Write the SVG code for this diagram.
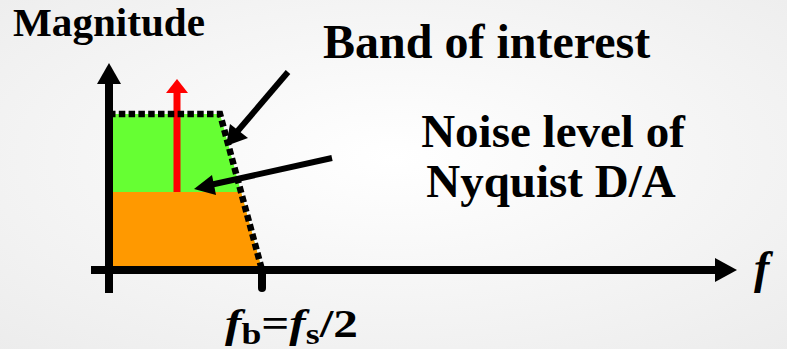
<svg xmlns="http://www.w3.org/2000/svg" width="787" height="349" viewBox="0 0 787 349">
<defs>
<radialGradient id="bg" cx="0.5" cy="0.45" r="0.75">
<stop offset="0" stop-color="#ffffff"/>
<stop offset="1" stop-color="#ececec"/>
</radialGradient>
<style>
.t{font-family:"Liberation Serif","Times New Roman",serif;font-weight:bold;fill:#000}
.fi{font-style:italic}
.ax{stroke:#000;stroke-width:8;fill:none}
.ptr{stroke:#000;stroke-width:6;fill:none}
.dots{stroke:#000;stroke-width:6.5;fill:none;stroke-dasharray:6.5 3.3}
</style>
</defs>
<rect x="0" y="0" width="787" height="349" fill="url(#bg)"/>
<g id="regions">
<polygon id="band" points="109,114 220,114 262,270 109,270" fill="#66ff33"/>
<polygon id="noise" points="109,192 241,192 262,270 109,270" fill="#ff9900"/>
</g>
<g id="signal">
<line x1="177" y1="192" x2="177" y2="92" stroke="#ff0000" stroke-width="7"/>
<polygon points="166,93 177,79 188,93" fill="#ff0000"/>
</g>
<g id="axes">
<line class="ax" x1="109" y1="82" x2="109" y2="293"/>
<polygon points="97,84 109,63 121,84" fill="#000"/>
<line class="ax" x1="91" y1="270" x2="717" y2="270"/>
<polygon points="715,258 737,270 715,282" fill="#000"/>
<line class="ax" x1="262" y1="270" x2="262" y2="288" stroke-linecap="round"/>
</g>
<g id="edge">
<path class="dots" d="M109,114 L220,114 L262,270"/>
</g>
<g id="connectors">
<line class="ptr" x1="288" y1="72" x2="236" y2="133"/>
<polygon points="226,146 230,124 248,138" fill="#000"/>
<line class="ptr" x1="332" y1="158" x2="210" y2="185"/>
<polygon points="194,189 212,175 216,195" fill="#000"/>
</g>
<g id="labels">
<text class="t" x="13" y="36" font-size="39" textLength="192" lengthAdjust="spacingAndGlyphs">Magnitude</text>
<text class="t" x="323" y="58" font-size="48">Band of interest</text>
<text class="t" x="553" y="147" font-size="47" text-anchor="middle">Noise level of</text>
<text class="t" x="551" y="197" font-size="47" text-anchor="middle">Nyquist D/A</text>
<text class="t fi" x="754" y="283" font-size="46">f</text>
<text class="t" x="225" y="337" font-size="40" textLength="133" lengthAdjust="spacingAndGlyphs"><tspan class="fi">f</tspan><tspan font-size="29" dy="7">b</tspan><tspan dy="-7">=</tspan><tspan class="fi">f</tspan><tspan font-size="29" dy="7">s</tspan><tspan dy="-7">/2</tspan></text>
</g>
</svg>
